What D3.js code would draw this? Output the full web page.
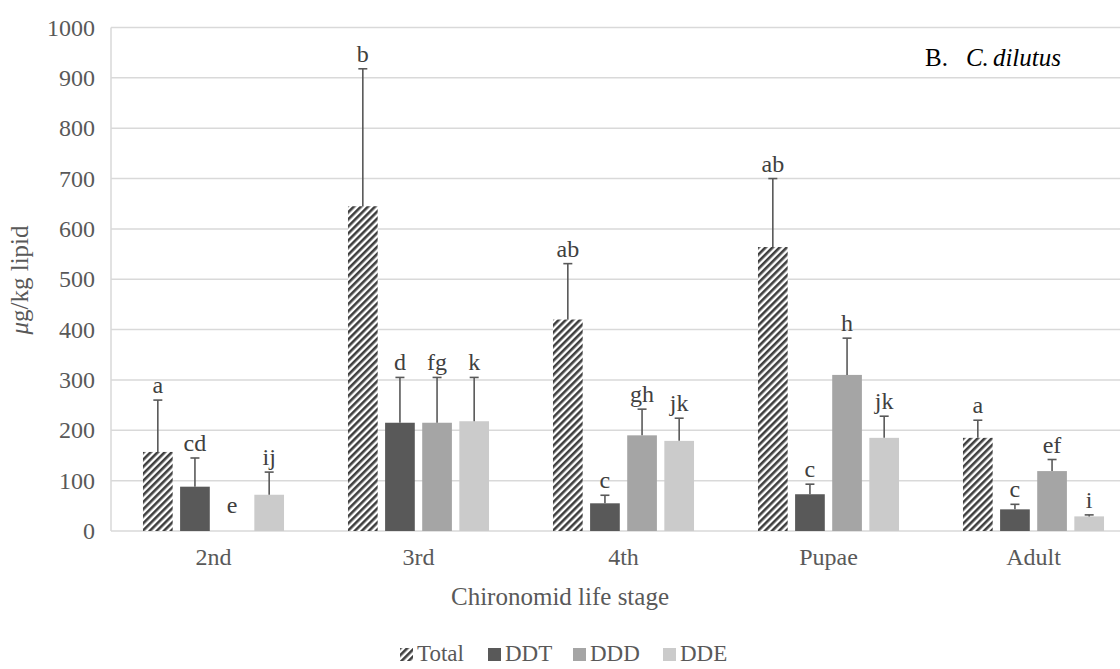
<!DOCTYPE html>
<html><head><meta charset="utf-8">
<script src="https://cdn.jsdelivr.net/npm/d3@7"></script>
<style>body{margin:0;background:#fff}svg{display:block}svg text{font-family:"Liberation Serif","Times New Roman",serif !important}</style>
</head><body><svg id="c" width="1120" height="669"></svg>
<script>
const categories = ["2nd","3rd","4th","Pupae","Adult"];
const series = ["Total","DDT","DDD","DDE"];
const totalVals = [157,645,420,564,185];
const totalErr  = [103,273,111,136,35];
const ddtVals   = [88,215,55,73,43];
const ddtErr    = [57,90,16,20,10];
const dddVals   = [0,215,190,310,119];
const dddErr    = [0,90,52,73,23];
const ddeVals   = [72,218,179,185,29];
const ddeErr    = [45,87,45,43,3];
const totalLetters = ["a","b","ab","ab","a"];
const ddtLetters   = ["cd","d","c","c","c"];
const dddLetters   = ["e","fg","gh","h","ef"];
const ddeLetters   = ["ij","k","jk","jk","i"];
const yTicks = [0,100,200,300,400,500,600,700,800,900,1000];

const vals = [totalVals, ddtVals, dddVals, ddeVals];
const errs = [totalErr, ddtErr, dddErr, ddeErr];
const lets = [totalLetters, ddtLetters, dddLetters, ddeLetters];
const fills = ["url(#hatch)","#595959","#a5a5a5","#cbcbcb"];

const svg = d3.select("#c");
const defs = svg.append("defs");
const pat = defs.append("pattern").attr("id","hatch").attr("patternUnits","userSpaceOnUse")
  .attr("width",5).attr("height",5).attr("patternTransform","rotate(45)");
pat.append("rect").attr("width",5).attr("height",5).attr("fill","#fff");
pat.append("rect").attr("x",0).attr("width",2.6).attr("height",5).attr("fill","#3f3f3f");

const x0 = 111, x1 = 1136, yB = 531, yT = 27.5;
const x = d3.scaleBand().domain(categories).range([x0,x1]).paddingInner(0.312).paddingOuter(0.156);
const xs = d3.scaleBand().domain(series).range([0,x.bandwidth()]).paddingInner(0.2).paddingOuter(0);
const y = d3.scaleLinear().domain([0,1000]).range([yB,yT]);

// gridlines
svg.append("g").selectAll("line").data(yTicks.filter(d=>d>0)).join("line")
  .attr("x1",x0).attr("x2",x1).attr("y1",d=>y(d)).attr("y2",d=>y(d))
  .attr("stroke","#d9d9d9").attr("stroke-width",1.5);
svg.append("line").attr("x1",x0).attr("x2",x0).attr("y1",yT).attr("y2",yB).attr("stroke","#d9d9d9").attr("stroke-width",1.5);
svg.append("line").attr("x1",x0).attr("x2",x1).attr("y1",yB).attr("y2",yB).attr("stroke","#d9d9d9").attr("stroke-width",1.5);

// y tick labels
const yAxis = d3.axisLeft(y).tickValues(yTicks).tickFormat(d3.format("d")).tickSize(0).tickPadding(16);
const ga = svg.append("g").attr("transform",`translate(${x0},0)`).call(yAxis);
ga.select(".domain").remove();
ga.selectAll("text").attr("font-size",24).attr("fill","#595959");

// x tick labels
const xAxis = d3.axisBottom(x).tickSize(0).tickPadding(17);
const gx = svg.append("g").attr("transform",`translate(0,${yB})`).call(xAxis);
gx.select(".domain").remove();
gx.selectAll("text").attr("font-size",24).attr("fill","#595959");

// bars
series.forEach((s,si)=>{
  const g = svg.append("g");
  categories.forEach((c,ci)=>{
    const v = vals[si][ci], e = errs[si][ci];
    const bx = x(c)+xs(s), bw = xs.bandwidth();
    if (v>0) g.append("rect").attr("x",bx).attr("y",y(v)).attr("width",bw).attr("height",yB-y(v)).attr("fill",fills[si]);
    const cx = bx+bw/2;
    if (e>0){
      g.append("line").attr("x1",cx).attr("x2",cx).attr("y1",y(v)).attr("y2",y(v+e)).attr("stroke","#595959").attr("stroke-width",1.6);
      g.append("line").attr("x1",cx-4.5).attr("x2",cx+4.5).attr("y1",y(v+e)).attr("y2",y(v+e)).attr("stroke","#595959").attr("stroke-width",1.6);
    }
    const ty = v+e>0 ? y(v+e)-7 : yB-18;
    g.append("text").attr("x",cx).attr("y",ty).attr("text-anchor","middle")
      .attr("font-size",24).attr("fill","#404040").text(lets[si][ci]);
  });
});

// y axis title
const yt = svg.append("text").attr("transform","translate(28,280) rotate(-90)").attr("text-anchor","middle")
  .attr("font-size",25).attr("fill","#595959");
yt.append("tspan").attr("font-style","italic").text("μ");
yt.append("tspan").text("g/kg lipid");

// x axis title
svg.append("text").attr("x",560).attr("y",605).attr("text-anchor","middle").attr("font-size",25)
  .attr("fill","#595959").text("Chironomid life stage");

// panel label
const pl = svg.append("text").attr("x",925).attr("y",66).attr("font-size",25).attr("fill","#000");
pl.append("tspan").text("B.");
pl.append("tspan").attr("dx",18).attr("font-style","italic").text("C.");
pl.append("tspan").attr("dx",4).attr("font-style","italic").text("dilutus");

// legend
const legX = [400,488,573,663];
const lg = svg.append("g");
series.forEach((s,i)=>{
  lg.append("rect").attr("x",legX[i]).attr("y",648).attr("width",13).attr("height",13).attr("fill",fills[i]);
  lg.append("text").attr("x",legX[i]+17).attr("y",661).attr("font-size",23).attr("fill","#595959").text(s);
});
</script></body></html>
